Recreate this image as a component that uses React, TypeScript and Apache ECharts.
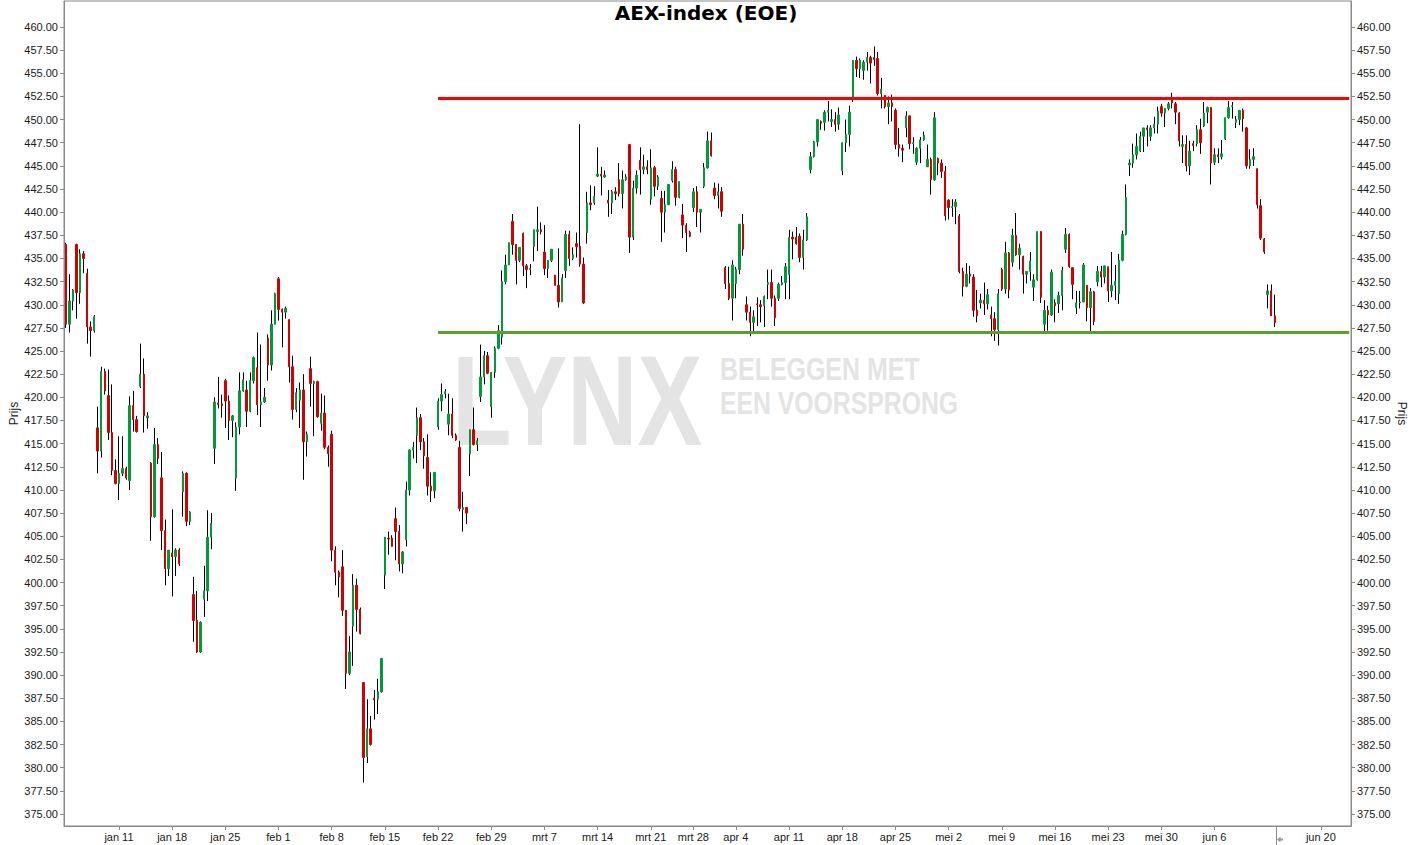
import React, { useEffect, useRef } from "react";
import * as echarts from "echarts";

// 3-hour candles, AEX-index 2016 — [open, close, low, high]
const jan: number[][] = [
  [436.5, 427.9, 427.5, 436.7], [427.9, 430.4, 427.0, 433.3], [430.4, 431.6, 429.4, 431.7],
  [436.5, 431.3, 428.5, 436.6], [431.3, 435.5, 430.1, 436.0], [435.5, 435.0, 433.4, 435.8],
  [433.4, 427.6, 425.8, 433.9], [427.6, 427.2, 424.4, 428.2], [427.2, 428.7, 427.0, 428.9],
  [416.7, 414.2, 411.8, 419.0], [414.2, 422.8, 413.5, 423.3], [422.8, 420.7, 420.3, 423.1],
  [420.2, 416.2, 415.4, 423.0], [416.2, 412.1, 411.6, 421.4], [412.1, 410.7, 410.6, 413.3],
  [410.7, 411.8, 408.9, 415.8], [411.8, 412.3, 411.5, 415.8], [412.3, 411.3, 411.1, 412.5],
  [411.0, 419.1, 410.0, 420.1], [419.1, 417.6, 416.3, 420.7], [417.6, 416.3, 416.2, 418.0],
  [421.2, 422.5, 421.0, 425.8], [422.5, 418.0, 416.2, 424.2], [417.8, 418.0, 416.6, 418.4],
  [412.9, 407.1, 404.5, 413.0], [407.1, 414.9, 407.0, 416.7], [414.9, 413.4, 412.8, 415.6],
  [411.3, 405.6, 403.5, 414.1], [405.6, 401.5, 399.7, 406.8], [401.5, 403.5, 400.7, 403.5],
  [403.2, 402.8, 398.5, 407.9], [402.8, 403.5, 400.7, 403.7], [403.5, 402.0, 401.8, 403.7],
  [409.8, 411.8, 407.1, 412.0], [411.8, 406.6, 406.1, 411.9], [406.6, 407.6, 406.2, 407.7],
  [398.7, 395.9, 393.6, 400.6], [395.9, 392.5, 392.4, 399.1], [392.5, 395.7, 392.4, 395.8],
  [398.2, 399.1, 396.3, 401.8], [399.1, 404.9, 398.0, 407.8], [404.9, 406.4, 403.6, 407.5],
  [414.5, 419.5, 412.8, 420.0], [419.4, 419.2, 418.8, 422.2], [419.3, 419.1, 417.8, 420.3],
  [421.8, 419.6, 416.7, 422.0], [419.6, 417.5, 415.4, 420.2], [417.5, 418.0, 415.7, 418.1],
  [411.3, 416.8, 409.9, 417.3], [416.8, 420.7, 416.0, 422.7], [420.7, 421.9, 420.6, 422.7],
  [420.8, 418.5, 416.8, 421.8], [418.5, 421.8, 418.4, 422.7], [421.8, 424.3, 421.5, 424.4],
  [423.2, 419.2, 418.1, 427.0], [419.2, 419.5, 416.8, 425.7], [419.5, 420.0, 419.4, 421.0],
  [426.4, 423.5, 421.8, 426.8], [423.5, 427.9, 422.9, 429.4], [427.9, 431.2, 427.9, 431.3],
];

const feb: number[][] = [
  [432.8, 429.5, 428.3, 433.0], [429.5, 429.2, 425.4, 429.6], [429.2, 429.6, 428.5, 429.8],
  [428.4, 423.3, 421.6, 428.4], [423.3, 418.7, 417.6, 424.5], [418.7, 420.5, 418.4, 421.0],
  [419.7, 420.8, 416.7, 421.6], [420.8, 415.2, 411.1, 422.5], [415.2, 416.0, 413.6, 416.3],
  [423.1, 421.5, 419.0, 424.4], [421.5, 421.7, 415.8, 421.8], [421.7, 417.9, 417.8, 421.8],
  [417.2, 418.3, 416.4, 420.4], [418.3, 414.6, 414.4, 420.2], [414.6, 413.9, 412.5, 414.8],
  [416.0, 403.5, 402.3, 416.4], [403.5, 401.1, 399.7, 403.9], [401.1, 400.6, 398.4, 401.3],
  [401.7, 397.0, 396.4, 403.5], [397.0, 390.2, 388.5, 397.0], [390.2, 392.5, 390.0, 394.2],
  [395.3, 399.7, 391.0, 400.9], [399.7, 397.1, 394.7, 400.4], [397.1, 394.5, 394.4, 397.3],
  [389.2, 381.1, 378.4, 389.2], [381.2, 384.2, 380.5, 387.4], [384.2, 382.5, 382.4, 385.6],
  [387.5, 387.3, 385.2, 388.4], [387.4, 388.2, 385.8, 389.6], [388.2, 391.8, 388.1, 391.8],
  [400.8, 404.9, 399.3, 404.9], [404.8, 404.7, 403.0, 405.5], [404.8, 403.9, 403.9, 405.1],
  [406.9, 405.5, 402.4, 408.1], [405.5, 402.0, 401.2, 406.2], [402.0, 403.3, 401.0, 403.4],
  [404.6, 410.0, 403.9, 410.9], [410.0, 414.3, 409.4, 414.4], [414.3, 414.6, 413.4, 415.2],
  [415.9, 417.8, 412.9, 418.9], [417.8, 415.2, 414.3, 418.2], [415.2, 413.7, 412.3, 415.6],
  [413.5, 410.4, 409.4, 416.0], [410.4, 409.9, 408.7, 411.9], [409.9, 411.9, 409.1, 411.9],
  [416.8, 419.6, 416.5, 419.9], [419.6, 420.3, 418.5, 421.5], [420.4, 420.6, 419.9, 420.9],
  [417.1, 418.2, 415.9, 420.4], [418.2, 415.9, 415.6, 419.9], [415.9, 415.4, 415.3, 416.1],
  [414.6, 408.0, 407.7, 415.3], [407.9, 408.1, 405.5, 409.8], [408.1, 407.5, 406.3, 408.1],
  [413.9, 416.5, 411.5, 416.5], [416.5, 414.9, 414.8, 418.9], [414.9, 415.3, 414.2, 415.6],
  [420.1, 422.2, 419.5, 425.7], [422.2, 424.5, 421.4, 425.0], [424.5, 422.6, 422.5, 424.9],
  [419.0, 422.7, 417.8, 422.7], [422.7, 425.3, 422.1, 425.5], [425.3, 427.2, 425.2, 427.8],
];

const mar: number[][] = [
  [426.5, 432.5, 425.7, 433.7], [432.5, 434.3, 432.2, 435.4], [434.3, 436.7, 434.3, 436.7],
  [439.0, 436.5, 435.4, 439.8], [436.5, 434.8, 432.2, 436.5], [434.8, 436.2, 434.6, 436.2],
  [437.7, 434.2, 433.1, 437.8], [434.2, 433.8, 431.8, 434.4], [433.8, 433.9, 433.2, 434.4],
  [436.3, 438.1, 434.7, 438.1], [437.9, 438.1, 435.8, 440.6], [438.1, 437.9, 437.6, 438.9],
  [435.7, 433.9, 433.2, 438.6], [433.9, 434.8, 432.9, 434.8], [434.8, 436.0, 434.6, 436.0],
  [433.2, 432.1, 432.1, 433.2], [432.1, 430.3, 429.7, 436.1], [430.3, 432.9, 430.3, 433.3],
  [433.7, 437.6, 432.9, 438.0], [437.6, 435.0, 434.2, 438.0], [435.0, 435.4, 434.8, 436.2],
  [436.6, 436.3, 435.1, 437.8], [436.3, 434.4, 434.1, 449.5], [434.4, 430.2, 430.1, 435.1],
  [437.8, 441.0, 436.6, 442.2], [441.0, 440.8, 440.2, 442.9], [441.0, 441.7, 440.8, 442.8],
  [443.9, 444.1, 443.8, 447.0], [444.1, 443.9, 441.8, 444.9], [443.8, 444.0, 443.7, 444.5],
  [441.3, 441.0, 439.5, 442.4], [441.0, 442.2, 439.8, 442.4], [442.2, 442.0, 441.3, 442.7],
  [443.5, 442.0, 441.7, 445.3], [442.0, 443.5, 440.4, 444.5], [443.5, 443.8, 443.4, 444.1],
  [447.3, 437.3, 435.6, 447.3], [437.3, 442.6, 437.0, 443.4], [442.6, 444.0, 442.0, 444.5],
  [445.6, 444.6, 441.9, 447.0], [444.6, 444.9, 444.1, 446.2], [444.9, 444.6, 444.1, 445.6],
  [441.4, 444.8, 440.8, 446.8], [444.8, 442.8, 441.7, 445.0], [442.8, 443.8, 442.4, 444.0],
  [441.5, 440.0, 436.8, 442.3], [440.0, 440.8, 437.8, 442.3], [440.8, 443.0, 440.8, 443.0],
  [443.4, 444.6, 443.2, 445.5], [444.6, 441.6, 440.7, 444.9], [441.6, 443.3, 441.5, 443.3],
  [439.7, 438.6, 437.2, 440.9], [438.6, 437.8, 435.7, 438.8], [437.8, 437.4, 437.3, 438.0],
  [440.5, 442.2, 440.0, 442.6], [442.2, 440.0, 438.4, 442.8], [440.0, 440.3, 437.8, 440.3],
  [442.8, 444.8, 442.6, 445.3], [444.8, 447.7, 444.7, 448.7], [447.7, 446.1, 446.0, 448.6],
  [442.6, 441.8, 441.4, 443.2], [441.8, 442.2, 440.4, 443.1], [442.2, 440.1, 439.5, 442.7],
];

const apr: number[][] = [
  [434.0, 432.3, 431.7, 434.2], [432.3, 430.7, 430.5, 434.1], [430.7, 434.3, 428.3, 434.8],
  [432.3, 433.8, 430.7, 434.1], [433.8, 438.7, 433.3, 438.7], [438.7, 436.0, 435.3, 439.8],
  [430.0, 429.2, 428.3, 430.9], [429.2, 428.1, 426.6, 429.8], [428.1, 428.7, 427.0, 429.4],
  [430.1, 430.0, 427.7, 430.8], [430.0, 429.8, 428.1, 430.5], [429.9, 430.9, 427.6, 431.0],
  [432.2, 432.4, 430.6, 433.8], [432.4, 430.7, 429.8, 433.8], [430.7, 428.6, 427.7, 431.0],
  [430.7, 432.2, 430.4, 432.4], [432.2, 432.4, 432.1, 433.1], [432.4, 434.1, 430.6, 434.5],
  [433.3, 437.3, 430.6, 438.1], [437.3, 437.1, 434.9, 437.9], [437.3, 436.6, 436.5, 438.4],
  [437.4, 435.1, 434.6, 437.7], [435.1, 437.0, 433.8, 438.1], [437.0, 439.5, 436.9, 439.9],
  [444.6, 446.0, 444.2, 446.5], [446.0, 447.6, 445.9, 447.7], [447.6, 450.0, 447.1, 450.0],
  [449.8, 449.6, 448.9, 449.9], [449.7, 450.8, 448.8, 451.0], [450.8, 451.0, 449.8, 452.0],
  [449.8, 450.0, 449.2, 451.1], [450.0, 449.5, 448.7, 450.8], [449.5, 450.5, 448.9, 451.3],
  [444.5, 447.5, 444.0, 447.5], [447.5, 448.4, 446.5, 450.0], [448.4, 450.8, 447.1, 451.5],
  [452.3, 456.4, 451.9, 456.4], [456.4, 455.5, 454.6, 456.8], [455.5, 456.4, 454.5, 456.6],
  [455.3, 456.2, 454.3, 456.4], [456.2, 456.7, 455.3, 457.3], [456.7, 456.1, 453.9, 456.9],
  [456.7, 456.5, 455.8, 457.9], [456.6, 452.8, 452.6, 457.3], [452.8, 453.3, 451.2, 454.5],
  [452.6, 451.4, 451.2, 452.6], [451.4, 451.8, 449.5, 452.5], [451.8, 451.4, 449.8, 452.7],
  [451.0, 447.3, 446.8, 451.2], [447.3, 446.9, 446.0, 449.1], [446.9, 446.7, 445.4, 447.3],
  [449.1, 450.4, 448.1, 450.9], [450.4, 447.4, 446.8, 450.4], [447.4, 447.5, 446.3, 448.1],
  [445.4, 446.9, 445.1, 447.0], [446.9, 447.8, 445.3, 448.1], [447.8, 448.3, 447.7, 448.7],
  [444.9, 445.7, 444.9, 447.3], [445.7, 443.5, 441.9, 445.9], [443.5, 450.2, 443.4, 450.8],
  [445.8, 445.3, 444.0, 445.9], [445.3, 444.4, 443.7, 445.7], [444.4, 439.6, 439.1, 445.0],
];

const may: number[][] = [
  [441.3, 440.5, 439.2, 441.4], [440.5, 440.6, 439.5, 441.4], [440.6, 441.1, 438.7, 441.4],
  [439.6, 433.6, 433.4, 439.8], [433.6, 432.0, 430.9, 434.0], [432.0, 433.3, 431.9, 434.5],
  [433.3, 433.1, 432.3, 434.2], [433.0, 429.4, 428.7, 433.3], [429.4, 428.8, 428.1, 431.6],
  [430.2, 430.5, 429.6, 431.2], [430.5, 430.1, 428.9, 432.4], [430.1, 431.1, 429.5, 431.7],
  [428.9, 428.5, 426.6, 429.8], [428.5, 427.3, 426.1, 429.2], [427.3, 431.2, 425.6, 431.7],
  [433.8, 431.7, 431.5, 434.0], [431.7, 435.6, 431.2, 436.8], [435.6, 431.6, 430.7, 435.7],
  [434.6, 437.5, 434.1, 438.2], [437.5, 435.4, 435.3, 439.9], [435.4, 436.1, 433.8, 436.6],
  [435.2, 433.3, 431.2, 435.3], [433.3, 433.6, 432.3, 433.6], [433.6, 434.7, 432.6, 435.7],
  [431.9, 432.7, 430.4, 433.3], [432.7, 437.9, 432.6, 437.9], [437.9, 430.8, 430.2, 437.9],
  [427.9, 429.4, 427.1, 430.5], [429.4, 428.9, 427.2, 429.9], [428.9, 433.5, 428.8, 433.8],
  [430.2, 429.9, 428.1, 430.6], [430.1, 431.0, 429.1, 431.4], [431.0, 433.7, 429.4, 434.1],
  [436.0, 437.6, 435.6, 438.3], [437.6, 434.1, 434.0, 437.7], [434.0, 432.2, 430.6, 434.0],
  [429.7, 430.2, 429.0, 431.5], [430.2, 430.3, 429.6, 431.5], [430.3, 434.3, 430.3, 434.5],
  [432.1, 429.7, 428.2, 432.1], [429.7, 431.4, 427.1, 431.8], [431.4, 428.2, 427.8, 431.5],
  [432.5, 433.6, 432.0, 434.2], [433.6, 433.0, 431.9, 434.2], [433.0, 434.2, 432.3, 434.2],
  [434.1, 431.5, 430.3, 434.1], [431.5, 432.1, 430.8, 435.7], [432.1, 432.5, 430.5, 434.3],
  [431.2, 434.8, 430.1, 435.5], [434.8, 437.6, 434.7, 438.0], [437.6, 441.6, 437.5, 443.0],
  [445.1, 445.3, 443.9, 445.7], [445.3, 446.2, 444.8, 447.4], [446.2, 447.1, 445.7, 448.5],
  [446.6, 448.2, 446.5, 448.7], [448.2, 449.1, 446.5, 449.1], [449.1, 448.9, 447.1, 449.4],
  [448.2, 449.1, 447.7, 449.4], [449.1, 449.5, 448.5, 450.3], [449.5, 450.9, 448.5, 451.4],
  [451.4, 450.7, 450.3, 451.7], [450.7, 451.2, 449.2, 451.2], [451.2, 451.7, 451.0, 451.9],
  [452.4, 451.8, 451.2, 452.9], [451.7, 450.8, 449.5, 451.9], [450.7, 447.7, 447.1, 450.8],
];

const jun: number[][] = [
  [447.1, 447.3, 445.3, 448.3], [447.3, 445.0, 444.4, 448.3], [445.0, 446.6, 444.0, 447.7],
  [447.4, 447.2, 446.6, 447.7], [447.4, 448.9, 447.1, 449.4], [448.9, 447.5, 446.3, 450.1],
  [449.3, 450.7, 449.2, 451.9], [450.8, 451.3, 449.6, 451.4], [451.3, 445.3, 443.0, 451.3],
  [445.4, 446.2, 445.1, 446.9], [446.2, 446.0, 445.3, 446.9], [446.0, 446.3, 445.7, 447.8],
  [447.9, 450.2, 447.8, 450.2], [450.2, 451.3, 450.1, 452.0], [451.4, 451.5, 450.1, 451.9],
  [449.7, 450.0, 449.1, 450.4], [450.0, 451.0, 449.4, 451.0], [451.0, 450.1, 448.7, 451.2],
  [449.1, 445.0, 444.7, 449.2], [445.0, 445.7, 444.7, 446.8], [445.7, 446.0, 445.0, 446.9],
  [444.7, 440.8, 440.4, 444.7], [440.7, 437.2, 437.0, 441.4], [437.1, 435.7, 435.5, 437.2],
  [431.1, 431.5, 429.6, 432.2], [431.5, 428.8, 428.8, 432.2], [428.8, 428.1, 427.6, 431.1],
];

const candles: number[][] = [...jan, ...feb, ...mar, ...apr, ...may, ...jun];

// horizontal levels drawn on the chart
const resistanceLevel = 452.3;
const supportLevel = 427.0;
const levelStartDate = "2016-02-22";

// axis setup
const firstDay = "2016-01-04";
const tradingDaysOnAxis = 121;
const sessions = ["09:00", "12:00", "15:00"];
const holidays = ["2016-03-25", "2016-03-28"];
const monthsNl = ["jan", "feb", "mrt", "apr", "mei", "jun", "jul", "aug", "sep", "okt", "nov", "dec"];
const hiddenWeeks = ["2016-01-04", "2016-06-13"];
const priceTicks: number[] = [
  375, 377.5, 380, 382.5, 385, 387.5, 390, 392.5, 395, 397.5, 400, 402.5, 405, 407.5, 410,
  412.5, 415, 417.5, 420, 422.5, 425, 427.5, 430, 432.5, 435, 437.5, 440, 442.5, 445, 447.5,
  450, 452.5, 455, 457.5, 460,
];

const GREEN = "#009a3a";
const RED = "#d20000";
const AXIS = "#8a8a8a";

function iso(d: Date) {
  return d.toISOString().slice(0, 10);
}

function buildAxis() {
  const days: Date[] = [];
  const d = new Date(firstDay + "T00:00:00Z");
  while (days.length < tradingDaysOnAxis) {
    const dow = d.getUTCDay();
    if (dow !== 0 && dow !== 6 && !holidays.includes(iso(d))) days.push(new Date(d.getTime()));
    d.setUTCDate(d.getUTCDate() + 1);
  }
  const categories: string[] = [];
  const labels = new Map<number, string>();
  let prevWeek = "";
  days.forEach((day, k) => {
    const monday = new Date(day.getTime());
    monday.setUTCDate(monday.getUTCDate() - (monday.getUTCDay() - 1));
    const wk = iso(monday);
    if (wk !== prevWeek && !hiddenWeeks.includes(wk)) {
      labels.set(k * sessions.length, monthsNl[monday.getUTCMonth()] + " " + monday.getUTCDate());
    }
    prevWeek = wk;
    sessions.forEach((s) => categories.push(iso(day) + " " + s));
  });
  return { categories, labels };
}

export default function App() {
  const ref = useRef<HTMLDivElement>(null);

  useEffect(() => {
    if (!ref.current) return;
    const chart = echarts.init(ref.current, undefined, { renderer: "svg" });
    const { categories, labels } = buildAxis();
    const startIdx = categories.indexOf(levelStartDate + " " + sessions[0]);
    const endCat = categories[categories.length - 1];
    const startCat = categories[startIdx];

    const wickData = candles.map((c, i) => [i, Math.min(c[0], c[1], c[2]), Math.max(c[0], c[1], c[3])]);
    const bodyData = candles.map((c) => [c[0], c[1], Math.min(c[0], c[1]), Math.max(c[0], c[1])]);

    const yMin = 373.704;
    const yMax = 462.808;
    const font = "Liberation Sans";

    const yAxisCommon = {
      type: "value",
      min: yMin,
      max: yMax,
      splitLine: { show: false },
      axisLine: { show: true, lineStyle: { color: AXIS, width: 1 } },
      axisTick: { show: true, length: 4, customValues: priceTicks, lineStyle: { color: AXIS } },
      axisLabel: {
        customValues: priceTicks,
        formatter: (v: number) => v.toFixed(2),
        fontSize: 11,
        fontFamily: font,
        color: "#1a1a1a",
        margin: 6,
      },
      name: "Prijs",
      nameLocation: "middle",
      nameMoveOverlap: false,
      nameTextStyle: { fontSize: 12, fontFamily: font, color: "#1a1a1a" },
    };

    chart.setOption({
      animation: false,
      backgroundColor: "#ffffff",
      title: {
        text: "AEX-index (EOE)",
        left: "center",
        top: 3,
        padding: 0,
        textStyle: { fontFamily: "DejaVu Sans", fontWeight: "bold", fontSize: 20, color: "#000" },
      },
      grid: {
        left: 64,
        right: 61,
        top: 1,
        bottom: 19,
        show: true,
        borderColor: AXIS,
        borderWidth: 1,
        containLabel: false,
        outerBoundsMode: "none",
      },
      xAxis: {
        type: "category",
        data: categories,
        boundaryGap: true,
        axisLine: { show: true, lineStyle: { color: AXIS } },
        axisTick: {
          show: true,
          alignWithLabel: true,
          length: 4,
          interval: (i: number) => labels.has(i),
          lineStyle: { color: AXIS },
        },
        axisLabel: {
          interval: (i: number) => labels.has(i),
          formatter: (_v: string, i: number) => labels.get(i) ?? "",
          fontSize: 11,
          fontFamily: font,
          color: "#1a1a1a",
          margin: 5,
        },
        splitLine: { show: false },
      },
      yAxis: [
        { ...yAxisCommon, position: "left", nameGap: 44, nameRotate: 90 },
        { ...yAxisCommon, position: "right", nameGap: 45, nameRotate: -90 },
      ],
      graphic: [
        {
          type: "text",
          x: 452,
          y: 401,
          z: 0,
          scaleX: 0.76,
          silent: true,
          style: {
            text: "LYNX",
            font: 'bold 128px "Liberation Sans"',
            fill: "#e4e4e4",
            verticalAlign: "middle",
          },
        },
        {
          type: "text",
          x: 720,
          y: 368.5,
          z: 0,
          scaleX: 0.78,
          silent: true,
          style: {
            text: "BELEGGEN MET",
            font: 'bold 32px "Liberation Sans"',
            fill: "#e4e4e4",
            verticalAlign: "middle",
          },
        },
        {
          type: "text",
          x: 720,
          y: 403,
          z: 0,
          scaleX: 0.774,
          silent: true,
          style: {
            text: "EEN VOORSPRONG",
            font: 'bold 32px "Liberation Sans"',
            fill: "#e4e4e4",
            verticalAlign: "middle",
          },
        },
        {
          type: "line",
          silent: true,
          shape: { x1: 1276.5, y1: 826, x2: 1276.5, y2: 845 },
          style: { stroke: AXIS, lineWidth: 1 },
        },
        {
          type: "polygon",
          silent: true,
          shape: {
            points: [
              [1277, 839.5], [1280.5, 836.5], [1280.5, 838.5], [1283, 838.5],
              [1283, 840.5], [1280.5, 840.5], [1280.5, 842.5],
            ],
          },
          style: { fill: "#9a9a9a" },
        },
      ],
      series: [
        {
          type: "custom",
          name: "wick",
          data: wickData,
          encode: { x: 0, y: [1, 2] },
          z: 2,
          silent: true,
          renderItem: (_params: any, api: any) => {
            const i = api.value(0);
            const top = api.coord([i, api.value(2)]);
            const bot = api.coord([i, api.value(1)]);
            const x = Math.round(top[0] - 0.5) + 0.5;
            return {
              type: "line",
              shape: { x1: x, y1: top[1], x2: x, y2: bot[1] },
              style: { stroke: "#000", lineWidth: 1 },
            };
          },
        },
        {
          type: "candlestick",
          name: "AEX",
          data: bodyData,
          barWidth: 2,
          z: 3,
          silent: true,
          itemStyle: {
            color: GREEN,
            color0: RED,
            borderColor: GREEN,
            borderColor0: RED,
            borderWidth: 1,
          },
          markLine: {
            silent: true,
            symbol: ["none", "none"],
            label: { show: false },
            emphasis: { disabled: true },
            data: [
              [
                { coord: [startCat, resistanceLevel], lineStyle: { color: "#ff0000", width: 3, type: "solid" } },
                { coord: [endCat, resistanceLevel] },
              ],
              [
                { coord: [startCat, supportLevel], lineStyle: { color: "#5c9f2c", width: 3, type: "solid" } },
                { coord: [endCat, supportLevel] },
              ],
            ],
          },
        },
      ],
    });

    return () => chart.dispose();
  }, []);

  return (
    <div
      ref={ref}
      style={{ position: "absolute", left: 0, top: 0, width: 1412, height: 845, background: "#fff" }}
    />
  );
}
